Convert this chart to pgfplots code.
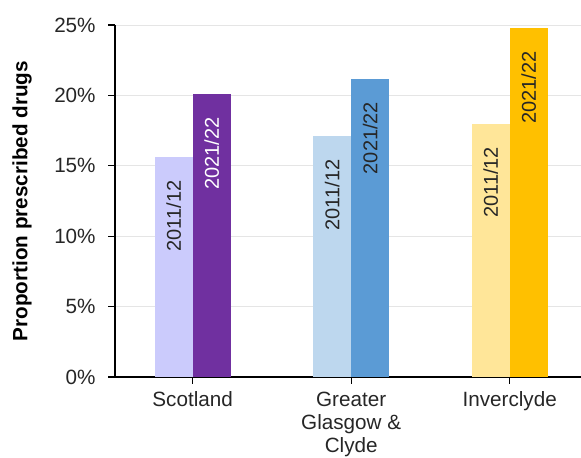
\documentclass[border=0pt]{standalone}
\usepackage{fontspec}
\setmainfont{Liberation Sans}
\usepackage{pgfplots}
\pgfplotsset{compat=1.18}
\definecolor{scL}{HTML}{CBCBFC}
\definecolor{scD}{HTML}{7030A0}
\definecolor{ggL}{HTML}{BDD7EE}
\definecolor{ggD}{HTML}{5B9BD5}
\definecolor{inL}{HTML}{FFE699}
\definecolor{inD}{HTML}{FFC000}
\begin{document}
\begin{tikzpicture}
\useasboundingbox (-86.25pt,-60pt) rectangle (349.5pt,282.75pt);
\begin{axis}[
  at={(0,0)}, anchor=south west,
  scale only axis, width=349.5pt, height=264pt,
  font=\fontsize{15.5}{18}\selectfont,
  /pgf/number format/assume math mode=true,
  ymin=0, ymax=25, ytick={0,5,10,15,20,25},
  yticklabel={\pgfmathprintnumber{\tick}\%},
  yticklabel style={xshift=-6pt, text=black!85},
  xmin=-0.49, xmax=2.45,
  xtick={0,1,2},
  xticklabels={Scotland,{Greater\\Glasgow \&\\Clyde},Inverclyde},
  xticklabel style={align=center, yshift=-2.5pt, text=black!85, font=\fontsize{15.5}{17.5}\selectfont},
  axis x line*=bottom, axis y line*=left,
  axis line style={black, line width=0.8pt},
  tick style={black, line width=0.8pt},
  tick align=outside, major tick length=5pt,
  ymajorgrids, grid style={gray!20, line width=0.6pt},
  ybar, bar width=0.24,
  every axis y label/.style={at={(axis description cs:-0.1996,0.5)}, rotate=90, anchor=center, font=\fontsize{15.5}{18}\selectfont\bfseries},
  ylabel={Proportion prescribed drugs},
  nodes near coords,
  every node near coord/.append style={yshift=-14pt, rotate=90, anchor=east, font=\fontsize{15}{18}\selectfont, text=black!85},
]
\addplot[fill=scL, draw=none, bar shift=-0.12, nodes near coords={2011/12}] coordinates {(0,15.6)};
\addplot[fill=scD, draw=none, bar shift=0.12, nodes near coords={2021/22}, every node near coord/.append style={text=white}] coordinates {(0,20.1)};
\addplot[fill=ggL, draw=none, bar shift=-0.12, nodes near coords={2011/12}] coordinates {(1,17.1)};
\addplot[fill=ggD, draw=none, bar shift=0.12, nodes near coords={2021/22}] coordinates {(1,21.2)};
\addplot[fill=inL, draw=none, bar shift=-0.12, nodes near coords={2011/12}] coordinates {(2,18.0)};
\addplot[fill=inD, draw=none, bar shift=0.12, nodes near coords={2021/22}] coordinates {(2,24.8)};
\end{axis}
\end{tikzpicture}
\end{document}
